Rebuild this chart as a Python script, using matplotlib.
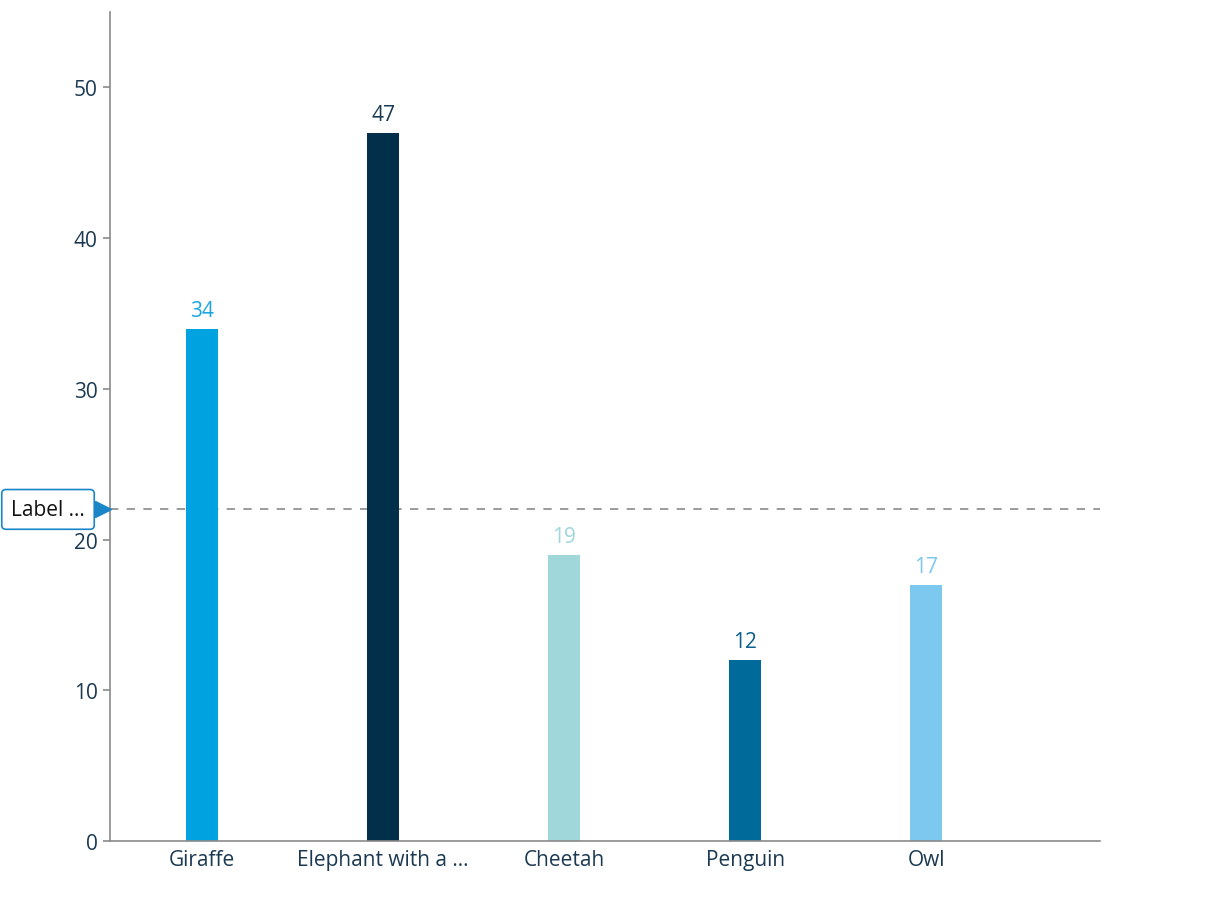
import matplotlib.pyplot as plt
import numpy as np

plt.rcParams['font.family'] = ['Open Sans', 'DejaVu Sans']

animals = ['Giraffe', 'Elephant with a ...', 'Cheetah', 'Penguin', 'Owl']
values = [34, 47, 19, 12, 17]
bar_colors = ['#00a3e0', '#02304a', '#a0d7da', '#006a9a', '#7cc8ee']
label_colors = ['#1aa6e0', '#1b3a52', '#a0d7da', '#0a5f8c', '#7cc8ee']
ref_value = 22
ref_text = 'Label ...'

text_col = '#1b3a52'
axis_col = '#8a8a8a'
fs = 15

fig = plt.figure(figsize=(12.13, 9.03), dpi=100)
ax = fig.add_axes([110 / 1213, 61 / 903, 990 / 1213, 829 / 903])

x = np.arange(len(animals))
ax.bar(x, values, width=0.18, color=bar_colors, zorder=2)

for xi, v, c in zip(x, values, label_colors):
    ax.annotate(str(v), (xi, v), xytext=(0, 8), textcoords='offset pixels',
                ha='center', va='bottom', fontsize=fs, color=c)

# reference line with label box
ax.axhline(ref_value, color=axis_col, lw=1.2, dashes=(5, 5), zorder=1)
ax.plot([-7 / 990], [ref_value], marker='>', markersize=11, color='#1a86c8',
        transform=ax.get_yaxis_transform(), clip_on=False, zorder=5)
ax.annotate(ref_text, xy=(0, ref_value), xycoords=('axes fraction', 'data'),
            xytext=(-62, 0), textcoords='offset pixels', ha='center', va='center',
            fontsize=fs, color='#111111', annotation_clip=False,
            bbox=dict(boxstyle='round,pad=0.45,rounding_size=0.2', fc='white',
                      ec='#1a86c8', lw=1.2))

ax.set_xlim(-0.508, 4.96)
ax.set_ylim(0, 55)
ax.set_yticks([0, 10, 20, 30, 40, 50])
ax.set_xticks(x)
ax.set_xticklabels(animals)

for s in ['top', 'right']:
    ax.spines[s].set_visible(False)
for s in ['left', 'bottom']:
    ax.spines[s].set_color(axis_col)
    ax.spines[s].set_linewidth(1.2)

ax.tick_params(axis='y', colors=axis_col, labelcolor=text_col, labelsize=fs,
               length=5, width=1.2, pad=4)
ax.tick_params(axis='x', length=0, labelcolor=text_col, labelsize=fs, pad=6)

fig.savefig('out.png', dpi=100, facecolor='white')
